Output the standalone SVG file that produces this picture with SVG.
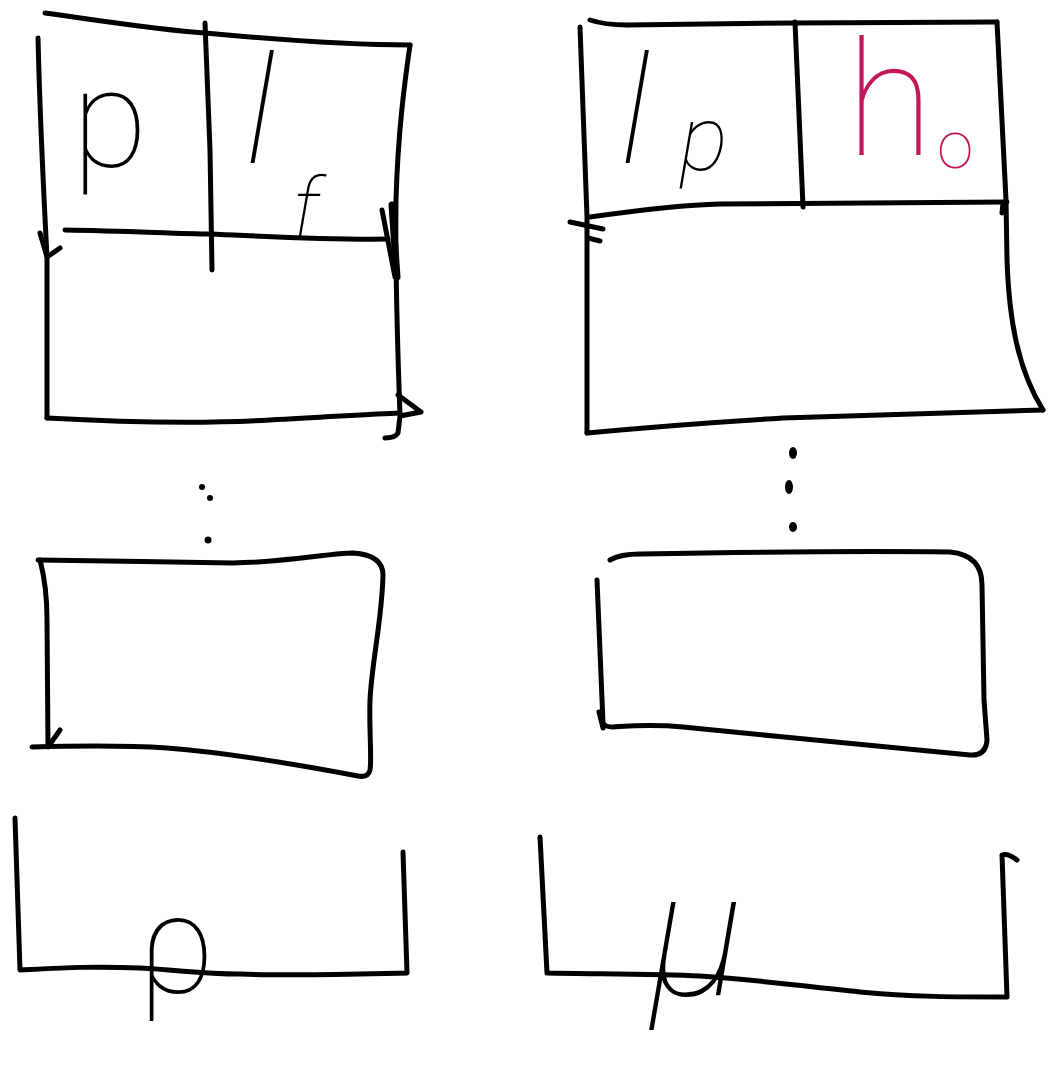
<svg xmlns="http://www.w3.org/2000/svg" width="1054" height="1076" viewBox="0 0 1054 1076">
<style>
.s{fill:none;stroke:#000;stroke-width:5;stroke-linecap:round;stroke-linejoin:round}
.t{fill:#000;font-family:Roboto,"Liberation Sans",sans-serif;font-weight:100}
.i{font-style:italic}
.m{fill:#c2185b}
.d{fill:#000}
</style>
<rect width="1054" height="1076" fill="#fff"/>
<g id="block-left-top">
<path class="s" d="M45,13 C110,22 160,30 205,33 C280,40 350,45 410,45"/>
<path class="s" d="M410,45 C405,80 398,130 396,200 C395,280 398,360 400,415"/>
<path class="s" style="stroke-width:7" d="M392,205 L397,277"/>
<path class="s" d="M382,210 L395,277"/>
<path class="s" d="M398,395 L421,412 L400,416 L398,433 Q395,438 385,438"/>
<path class="s" d="M38,38 C40,120 44,200 47,257 L47,418"/>
<path class="s" d="M40,233 L47,257 L60,248"/>
<path class="s" d="M47,418 C120,422 200,424 270,420 C330,417 370,414 400,413"/>
<path class="s" d="M205,23 L210,150 L212,270"/>
<path class="s" d="M65,230 C130,231 180,234 210,234 C280,237 330,240 388,239"/>
<text class="t" x="72" y="167" font-size="138">p</text>
<text class="t i" x="245" y="163" font-size="150">l</text>
<text class="t i" x="292" y="240" font-size="88">f</text>
</g>
<g id="block-right-top">
<path class="s" d="M590,20 Q605,25 627,25 C700,24 750,23 793,23 C880,22 950,22 997,22"/>
<path class="s" d="M580,27 L587,217 L587,433"/>
<path class="s" d="M795,22 L803,207"/>
<path class="s" d="M997,22 L1006,200 L1007,260 C1009,320 1018,370 1043,410"/>
<path class="s" d="M1043,410 C950,413 850,416 783,418 C700,423 640,428 587,433"/>
<path class="s" d="M590,217 C640,210 680,205 720,204 C850,203 950,202 1007,202"/>
<path class="s" d="M570,222 L603,229 M588,238 L600,241 M1003,203 L1002,213"/>
<text class="t i" x="620" y="163" font-size="150">l</text>
<text class="t i" x="680" y="170" font-size="90">p</text>
<text class="t m" x="846" y="155" font-size="160">h</text>
<text class="t m" x="937" y="168" font-size="66">o</text>
</g>
<g id="block-left-bottom">
<path class="s" d="M38,560 C100,561 170,562 233,563 C290,562 330,553 353,553 Q383,555 383,575 C382,620 372,660 370,700 C369,730 372,760 370,770 Q368,778 358,776 C300,765 220,752 167,748 C120,745 70,746 32,747"/>
<path class="s" d="M40,560 C44,575 47,590 47,620 L48,747 L60,730"/>
</g>
<g id="block-right-bottom">
<path class="s" d="M610,560 Q620,554 640,554 C750,552 880,551 950,552 Q982,555 982,585 L984,700 L987,740 Q986,756 970,755 C900,748 780,737 683,727 C650,724 630,726 613,727 Q605,727 603,723"/>
<path class="s" d="M597,580 L603,723 M599,712 L603,728"/>
</g>
<g id="bracket-left">
<path class="s" d="M15,818 L20,970 C60,968 90,966 140,968 C180,970 200,974 240,974 C300,976 360,974 407,973 L403,852"/>
<text class="t" x="138" y="993" font-size="140">ρ</text>
</g>
<g id="bracket-right">
<path class="s" d="M540,837 L547,973 C600,974 660,974 700,976 C760,980 800,986 860,992 C910,997 960,997 1007,997 L1002,855 Q1008,853 1017,860"/>
<text class="t i" x="650" y="995" font-size="175">μ</text>
</g>
<g id="connectors">
<circle class="d" cx="202" cy="487" r="3"/>
<circle class="d" cx="210" cy="498" r="3"/>
<circle class="d" cx="208" cy="540" r="3.5"/>
<ellipse class="d" cx="793" cy="453" rx="4" ry="6"/>
<ellipse class="d" cx="789" cy="487" rx="4" ry="7"/>
<ellipse class="d" cx="793" cy="527" rx="4" ry="5"/>
</g>
</svg>
